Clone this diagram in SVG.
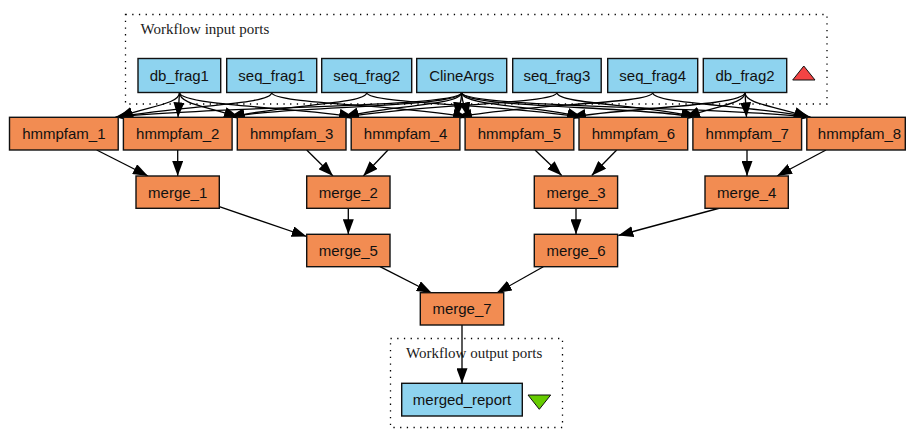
<svg xmlns="http://www.w3.org/2000/svg" width="907" height="429" viewBox="0 0 907 429">
<defs>
<style>
.bg{fill:#ffffff}
.cluster{fill:none;stroke:#000;stroke-width:1.3;stroke-dasharray:1.3 5.4}
.clabel{font-family:"Liberation Serif","Times New Roman",serif;font-size:15px;fill:#1a1a1a}
.port rect{fill:#8ed3ef;stroke:#111;stroke-width:1.4}
.proc rect{fill:#f28c52;stroke:#111;stroke-width:1.4}
.port text,.proc text{font-family:"Liberation Sans",Arial,sans-serif;font-size:15px;fill:#111;text-anchor:middle}
#connectors path{fill:none;stroke:#000;stroke-width:1.3;marker-end:url(#arr)}
</style>
<marker id="arr" viewBox="0 0 15 11" refX="15" refY="5.5" markerWidth="15" markerHeight="11" markerUnits="userSpaceOnUse" orient="auto">
<path d="M0,0 L15,5.5 L0,11 z" fill="#000"/>
</marker>
</defs>
<rect class="bg" x="0" y="0" width="907" height="429"/>

<g id="cluster_inputs">
<rect class="cluster" x="125.5" y="14.5" width="701.5" height="89.5"/>
<text class="clabel" x="140.5" y="34">Workflow input ports</text>
<polygon points="792.7,80 815,80 803.8,66" fill="#f44444" stroke="#111" stroke-width="1"/>
</g>
<g id="cluster_outputs">
<rect class="cluster" x="390.5" y="338.5" width="172" height="89"/>
<text class="clabel" x="406" y="357.5">Workflow output ports</text>
<polygon points="528,395 550.7,395 539.3,409.3" fill="#66cc00" stroke="#111" stroke-width="1"/>
</g>

<g id="connectors">
<!-- db_frag1 -->
<path d="M179.5,92.5 C179.5,104 150,106 118,117.3"/>
<path d="M179.5,92.5 L178,117.3"/>
<path d="M179.5,92.5 C179.5,104 205,106 239,117.3"/>
<path d="M179.5,92.5 C179.5,106 310,108 354,117.3"/>
<!-- seq_frag1 -->
<path d="M271.7,92.5 C271.7,104 200,104 115,117.3"/>
<path d="M271.7,92.5 C271.7,104 400,104 468,117.3"/>
<!-- seq_frag2 -->
<path d="M366.7,92.5 C366.7,104 290,104 229,117.3"/>
<path d="M366.7,92.5 C366.7,104 500,104 583,117.3"/>
<!-- ClineArgs -->
<path d="M461.7,92.5 C461.7,108 200,106 116,117.3"/>
<path d="M461.7,92.5 C461.7,108 280,106 230,117.3"/>
<path d="M461.7,92.5 C461.7,106 380,106 344,117.3"/>
<path d="M461.7,92.5 C461.7,104 458,108 457,117.3"/>
<path d="M461.7,92.5 C461.7,104 466,108 468,117.3"/>
<path d="M461.7,92.5 C461.7,106 540,106 582,117.3"/>
<path d="M461.7,92.5 C461.7,108 640,106 696,117.3"/>
<path d="M461.7,92.5 C461.7,108 720,106 810,117.3"/>
<!-- seq_frag3 -->
<path d="M556.9,92.5 C556.9,104 420,104 343,117.3"/>
<path d="M556.9,92.5 C556.9,104 640,104 698,117.3"/>
<!-- seq_frag4 -->
<path d="M652.7,92.5 C652.7,104 520,104 457,117.3"/>
<path d="M652.7,92.5 C652.7,104 740,104 811,117.3"/>
<!-- db_frag2 -->
<path d="M745,92.5 C745,106 620,108 571,117.3"/>
<path d="M745,92.5 C745,104 715,106 685,117.3"/>
<path d="M745,92.5 L746.5,117.3"/>
<path d="M745,92.5 C745,104 775,106 809,117.3"/>
<!-- hmmpfam -> merge -->
<path d="M96.7,150 L148,176"/>
<path d="M177.7,150 L177.7,176"/>
<path d="M306.7,150 L333,176"/>
<path d="M388,150 L363.3,176"/>
<path d="M535,150 L561.7,175.5"/>
<path d="M616.7,150 L591.7,175.5"/>
<path d="M747,150 L747,176"/>
<path d="M826,150 L777,176"/>
<!-- merge -> merge -->
<path d="M219.3,206.7 L306.7,236.5"/>
<path d="M348.3,208.3 L348.3,234.3"/>
<path d="M576,208.3 L576,234.3"/>
<path d="M720,208 L618.3,235.5"/>
<path d="M380,266.7 L431.7,293"/>
<path d="M543.3,266.7 L496.7,293"/>
<path d="M462,325 L462,383.3"/>
</g>

<g id="db_frag1" class="port"><rect x="138" y="58.5" width="82.7" height="34"/><text x="179.3" y="80.5">db_frag1</text></g>
<g id="seq_frag1" class="port"><rect x="226.7" y="58.5" width="90" height="34"/><text x="271.7" y="80.5">seq_frag1</text></g>
<g id="seq_frag2" class="port"><rect x="321.7" y="58.5" width="90" height="34"/><text x="366.7" y="80.5">seq_frag2</text></g>
<g id="ClineArgs" class="port"><rect x="416.7" y="58.5" width="90" height="34"/><text x="461.7" y="80.5">ClineArgs</text></g>
<g id="seq_frag3" class="port"><rect x="512.7" y="58.5" width="88.5" height="34"/><text x="556.9" y="80.5">seq_frag3</text></g>
<g id="seq_frag4" class="port"><rect x="607.7" y="58.5" width="90" height="34"/><text x="652.7" y="80.5">seq_frag4</text></g>
<g id="db_frag2" class="port"><rect x="703.3" y="58.5" width="83.4" height="34"/><text x="745" y="80.5">db_frag2</text></g>

<g id="hmmpfam_1" class="proc"><rect x="9.5" y="117.3" width="108.7" height="32.7"/><text x="63.85" y="139">hmmpfam_1</text></g>
<g id="hmmpfam_2" class="proc"><rect x="123.4" y="117.3" width="108.7" height="32.7"/><text x="177.75" y="139">hmmpfam_2</text></g>
<g id="hmmpfam_3" class="proc"><rect x="237.3" y="117.3" width="108.7" height="32.7"/><text x="291.65" y="139">hmmpfam_3</text></g>
<g id="hmmpfam_4" class="proc"><rect x="351.2" y="117.3" width="108.7" height="32.7"/><text x="405.55" y="139">hmmpfam_4</text></g>
<g id="hmmpfam_5" class="proc"><rect x="465.1" y="117.3" width="108.7" height="32.7"/><text x="519.45" y="139">hmmpfam_5</text></g>
<g id="hmmpfam_6" class="proc"><rect x="579" y="117.3" width="108.7" height="32.7"/><text x="633.35" y="139">hmmpfam_6</text></g>
<g id="hmmpfam_7" class="proc"><rect x="692.9" y="117.3" width="108.7" height="32.7"/><text x="747.25" y="139">hmmpfam_7</text></g>
<g id="hmmpfam_8" class="proc"><rect x="806.8" y="117.3" width="98.5" height="32.7"/><text x="859.5" y="139">hmmpfam_8</text></g>

<g id="merge_1" class="proc"><rect x="136" y="176" width="83.3" height="32.3"/><text x="177.7" y="197.5">merge_1</text></g>
<g id="merge_2" class="proc"><rect x="306.7" y="176" width="83.3" height="32.3"/><text x="348.3" y="197.5">merge_2</text></g>
<g id="merge_3" class="proc"><rect x="534.3" y="176" width="83.3" height="32.3"/><text x="576" y="197.5">merge_3</text></g>
<g id="merge_4" class="proc"><rect x="705" y="176" width="83.3" height="32.3"/><text x="746.7" y="197.5">merge_4</text></g>
<g id="merge_5" class="proc"><rect x="306.7" y="234.3" width="83.3" height="32.4"/><text x="348.3" y="255.8">merge_5</text></g>
<g id="merge_6" class="proc"><rect x="534.3" y="234.3" width="83.3" height="32.4"/><text x="576" y="255.8">merge_6</text></g>
<g id="merge_7" class="proc"><rect x="420.3" y="292.7" width="83.4" height="32.3"/><text x="462" y="314.2">merge_7</text></g>

<g id="merged_report" class="port"><rect x="401.7" y="383.3" width="120.6" height="32.7"/><text x="462" y="405">merged_report</text></g>
</svg>
